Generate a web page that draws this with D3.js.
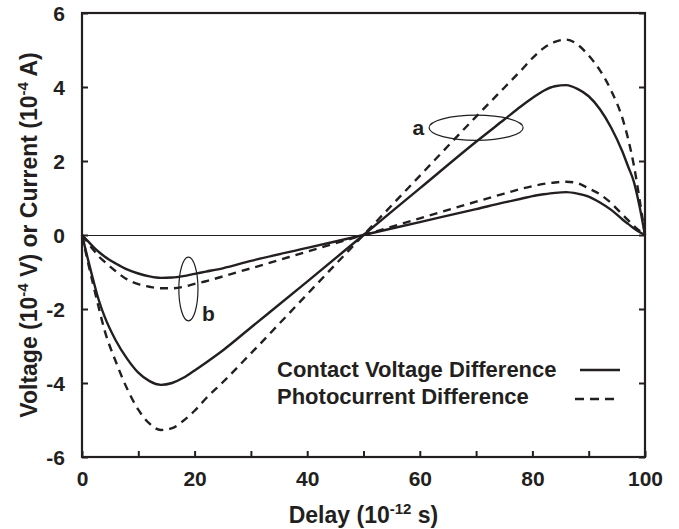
<!DOCTYPE html>
<html>
<head>
<meta charset="utf-8">
<script src="https://cdn.jsdelivr.net/npm/d3@7"></script>
<style>
  body { margin: 0; background: #fff; }
  text { font-family: "Liberation Sans", Arial, sans-serif; font-weight: bold; fill: #231f20; }
</style>
</head>
<body>
<div id="canvas"></div>
<script>
// data
const delay = [0, 1, 2, 3, 4, 6, 8, 10, 12, 14, 16, 18, 20, 22, 25, 30, 40, 50,
    60, 70, 75, 78, 80, 82, 84, 86, 88, 90, 92, 94, 96, 97, 98, 99, 100];

const voltageA = [0, -0.62, -1.22, -1.77, -2.2, -2.85, -3.34, -3.72, -3.95, -4.05, -4.0, -3.86, -3.66, -3.45, -3.12, -2.5, -1.26, 0,
    1.26, 2.52, 3.12, 3.48, 3.7, 3.9, 4.02, 4.05, 3.95, 3.75, 3.4, 2.9, 2.25, 1.85, 1.45, 0.8, 0];
const currentA = [0, -0.7, -1.35, -1.98, -2.57, -3.42, -4.15, -4.72, -5.1, -5.27, -5.22, -5.02, -4.75, -4.42, -3.98, -3.2, -1.6, 0,
    1.6, 3.2, 3.98, 4.45, 4.78, 5.05, 5.22, 5.28, 5.15, 4.85, 4.45, 3.9, 3.15, 2.6, 1.9, 1.0, 0];
const voltageB = [0, -0.16, -0.32, -0.46, -0.58, -0.77, -0.93, -1.04, -1.12, -1.16, -1.15, -1.11, -1.05, -0.99, -0.9, -0.7, -0.35, 0,
    0.35, 0.7, 0.88, 0.98, 1.05, 1.1, 1.14, 1.16, 1.12, 1.04, 0.88, 0.68, 0.42, 0.3, 0.18, 0.08, 0];
const currentB = [0, -0.2, -0.4, -0.58, -0.72, -0.98, -1.2, -1.33, -1.4, -1.44, -1.44, -1.4, -1.32, -1.25, -1.12, -0.9, -0.45, 0,
    0.45, 0.9, 1.12, 1.25, 1.32, 1.38, 1.42, 1.44, 1.4, 1.26, 1.1, 0.86, 0.55, 0.4, 0.25, 0.12, 0];

const xTicks = [0, 20, 40, 60, 80, 100];
const xMinorTicks = [10, 30, 50, 70, 90];
const yTicks = [-6, -4, -2, 0, 2, 4, 6];
const legendLabels = ["Contact Voltage Difference", "Photocurrent Difference"];

let margin = {top: 13, right: 34, bottom: 72, left: 82};
let width = 679 - margin.left - margin.right;
let height = 529 - margin.top - margin.bottom;

let svg = d3.select("#canvas")
    .append("svg")
    .attr("width", 679)
    .attr("height", 529)
    .append("g")
    .attr("transform", "translate(" + margin.left + "," + margin.top + ")");

let x = d3.scaleLinear().domain([0, 100]).range([0, width]);
let y = d3.scaleLinear().domain([-6, 6]).range([height, 0]);

// zero line
svg.append("line")
    .attr("x1", 0).attr("x2", width)
    .attr("y1", y(0) + 0.5).attr("y2", y(0) + 0.5)
    .attr("stroke", "#231f20").attr("stroke-width", 1);

// axes, ticks pointing inward
let xAxis = svg.append("g")
    .attr("transform", "translate(0," + height + ")")
    .call(d3.axisBottom(x).tickValues(xTicks.concat(xMinorTicks)).tickSizeInner(-6).tickSizeOuter(0)
        .tickFormat(d => xTicks.includes(d) ? String(d) : ""));
xAxis.selectAll("text").attr("dy", null).attr("y", 29).style("font-size", "21px");

let yAxis = svg.append("g")
    .call(d3.axisLeft(y).tickValues(yTicks).tickSizeInner(-6).tickSizeOuter(0)
        .tickFormat(d => String(d)));
yAxis.selectAll("text").attr("x", -17).attr("dy", "0.36em").style("font-size", "21px");

let yRight = svg.append("g")
    .attr("transform", "translate(" + width + ",0)")
    .call(d3.axisRight(y).tickValues(yTicks).tickSizeInner(-6).tickSizeOuter(0).tickFormat(""));

svg.selectAll(".domain").remove();
svg.selectAll(".tick line").attr("stroke", "#231f20").attr("stroke-width", 2);

svg.append("rect")
    .attr("width", width).attr("height", height)
    .attr("fill", "none").attr("stroke", "#231f20").attr("stroke-width", 2.2);

// curves
let line = d3.line()
    .x(d => x(d[0]))
    .y(d => y(d[1]))
    .curve(d3.curveMonotoneX);

let series = [
    {values: voltageA, dash: null},
    {values: currentA, dash: "8,6"},
    {values: voltageB, dash: null},
    {values: currentB, dash: "8,6"}
];

series.forEach(s => {
    svg.append("path")
        .datum(delay.map((d, i) => [d, s.values[i]]))
        .attr("fill", "none")
        .attr("stroke", "#231f20")
        .attr("stroke-width", 2.4)
        .attr("stroke-dasharray", s.dash)
        .attr("d", line);
});

// ellipse markers
svg.append("ellipse")
    .attr("cx", x(70)).attr("cy", y(2.9))
    .attr("rx", x(8.35) - x(0)).attr("ry", y(0) - y(0.34))
    .attr("fill", "none").attr("stroke", "#231f20").attr("stroke-width", 1.2);
svg.append("text")
    .attr("x", x(70) - (x(8.35) - x(0)) - 5).attr("y", y(2.9) + 7)
    .attr("text-anchor", "end")
    .style("font-size", "21px")
    .text("a");

svg.append("ellipse")
    .attr("cx", x(18.9)).attr("cy", y(-1.46))
    .attr("rx", x(1.7) - x(0)).attr("ry", y(0) - y(0.86))
    .attr("fill", "none").attr("stroke", "#231f20").attr("stroke-width", 1.2);
svg.append("text")
    .attr("x", x(18.9) + (x(1.7) - x(0)) + 4).attr("y", y(-1.46) + 32)
    .style("font-size", "21px")
    .text("b");

// legend
let legend = svg.append("g");
legendLabels.forEach((label, i) => {
    legend.append("text")
        .attr("x", 195).attr("y", 364 + i * 27)
        .style("font-size", "22px")
        .text(label);
    legend.append("line")
        .attr("x1", i == 0 ? 498 : 493).attr("x2", 538)
        .attr("y1", 357 + i * 29).attr("y2", 357 + i * 29)
        .attr("stroke", "#231f20").attr("stroke-width", 2.4)
        .attr("stroke-dasharray", i == 0 ? null : "9,6");
});

// axis titles
let xTitle = svg.append("text")
    .attr("x", width / 2).attr("y", height + 66)
    .attr("text-anchor", "middle")
    .style("font-size", "23px");
xTitle.append("tspan").text("Delay (10");
xTitle.append("tspan").attr("dy", -9).style("font-size", "15px").text("-12");
xTitle.append("tspan").attr("dy", 9).text(" s)");

let yTitle = svg.append("text")
    .attr("transform", "rotate(-90)")
    .attr("x", -height / 2).attr("y", -45)
    .attr("text-anchor", "middle")
    .style("font-size", "23px");
yTitle.append("tspan").text("Voltage (10");
yTitle.append("tspan").attr("dy", -9).style("font-size", "15px").text("-4");
yTitle.append("tspan").attr("dy", 9).text(" V) or Current (10");
yTitle.append("tspan").attr("dy", -9).style("font-size", "15px").text("-4");
yTitle.append("tspan").attr("dy", 9).text(" A)");
</script>
</body>
</html>
